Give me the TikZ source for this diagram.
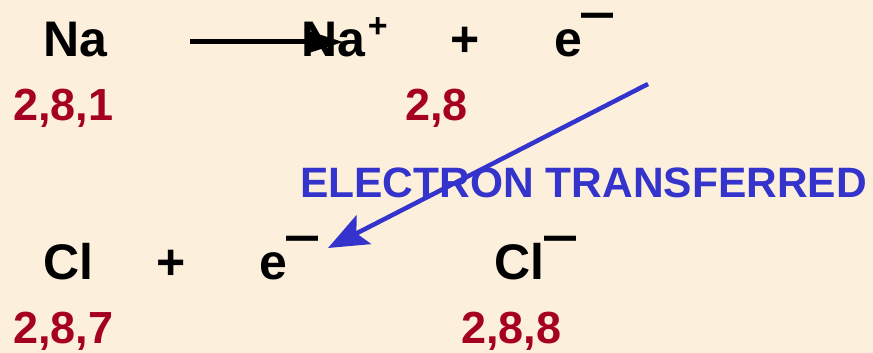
\documentclass[tikz,border=0pt]{standalone}
\usepackage{fontspec}
\setmainfont{Liberation Sans}
\usepackage{xcolor}
\usepackage{tikz}
\usetikzlibrary{arrows.meta, positioning}
\definecolor{bgcream}{HTML}{FCF0DC}
\definecolor{shellred}{HTML}{A50021}
\definecolor{transferblue}{HTML}{3434CC}
\newcommand{\ionplus}{\kern3pt\raisebox{20pt}{\fontsize{34}{34}\selectfont +}}
\newcommand{\ionminus}{\raisebox{27pt}{\fontsize{32}{32}\selectfont\scalebox{1}[1.6]{—}}}

\begin{document}
\begin{tikzpicture}[x=1pt, y=-1pt,
    species/.style={anchor=base west, inner sep=0pt, outer sep=0pt, font=\fontsize{50}{60}\selectfont\bfseries},
    shell/.style={anchor=base west, inner sep=0pt, outer sep=0pt, font=\fontsize{45}{54}\selectfont\bfseries, text=shellred},
    arr/.style={-{Stealth[length=38pt, width=24pt, inset=6pt]}, line width=5pt},
    bigarr/.style={-{Stealth[length=40pt, width=32pt, inset=8pt]}, line width=4.5pt, transferblue},
]
\fill[bgcream] (0,0) rectangle (873,353);
\useasboundingbox (0,0) rectangle (873,353);

% Top: sodium loses an electron
\node[species] (na) at (43,57) {Na};
\node[species] (naion) at (301,57) {Na\ionplus};
\node[species] (plusA) at (450,57) {+};
\node[species] (elecA) at (554,57) {e\ionminus};
\node[shell] (shna) at (13,120) {2,8,1};
\node[shell] (shnaion) at (405,120) {2,8};

\coordinate (arrA) at (190,42);
\coordinate (arrB) at (343,42);
\draw[arr] (arrA) -- (arrB);

% Middle: transfer
\coordinate (trA) at (648,84);
\coordinate (trB) at (328,248);
\draw[bigarr] (trA) -- (trB);
\node[anchor=base west, inner sep=0pt, font=\fontsize{42.5}{50}\selectfont\bfseries, text=transferblue] (trlabel) at (300,197) {ELECTRON TRANSFERRED};

% Bottom: chlorine gains an electron
\node[species] (cl) at (43,279) {Cl};
\node[species] (plusB) at (156,279) {+};
\node[species] (elecB) at (259,279) {e\ionminus};
\node[species] (clion) at (494,279) {Cl\ionminus};
\node[shell] (shcl) at (13,343) {2,8,7};
\node[shell] (shclion) at (461,343) {2,8,8};

\end{tikzpicture}
\end{document}
